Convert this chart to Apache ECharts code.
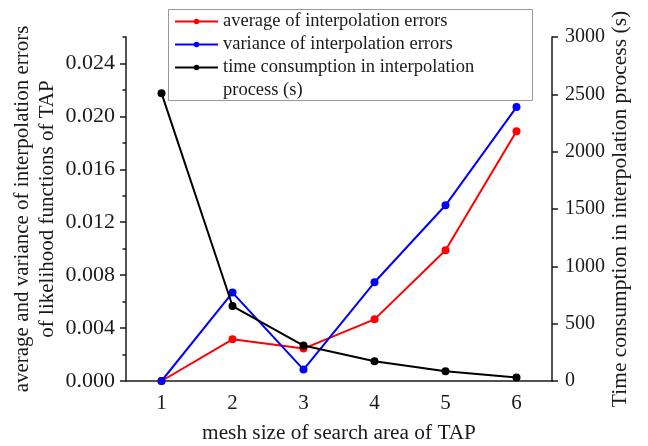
<!DOCTYPE html>
<html>
<head>
<meta charset="utf-8">
<script src="https://cdn.jsdelivr.net/npm/echarts@6/dist/echarts.min.js"></script>
<style>
  html, body { margin: 0; padding: 0; background: #fff; }
  #chart { width: 648px; height: 446px; }
</style>
</head>
<body>
<div id="chart"></div>
<script>
// Mesh sizes of the TAP search area
const meshSizes = ['1', '2', '3', '4', '5', '6'];
// Average and variance of the interpolation errors (left axis)
const avgErrors = [0, 0.00315, 0.00245, 0.00466, 0.00988, 0.01887];
const varErrors = [0, 0.00668, 0.00086, 0.00746, 0.01328, 0.0207];
// Time spent in the interpolation process, seconds (right axis)
const timeCost = [2510, 654, 309, 172, 85, 30];
// Tick values
const leftMajorTicks = [0, 0.004, 0.008, 0.012, 0.016, 0.020, 0.024];
const leftMinorTicks = [0.002, 0.006, 0.010, 0.014, 0.018, 0.022, 0.026];

const SERIF = '"Liberation Serif", "Times New Roman", serif';
const INK = '#1a1a1a';

const chart = echarts.init(document.getElementById('chart'));

chart.setOption({
  animation: false,
  backgroundColor: '#fff',
  grid: { left: 126, right: 96, top: 37, bottom: 65, containLabel: false, outerBoundsMode: 'none' },
  graphic: [{
    type: 'rect',
    shape: { x: 168.5, y: 9.5, width: 364, height: 91 },
    style: { fill: null, stroke: '#999', lineWidth: 1 },
    z: 10
  }],
  legend: {
    orient: 'vertical',
    left: 174,
    top: 10,
    padding: 0,
    itemGap: 0,
    itemWidth: 43,
    itemHeight: 7,
    // a wrapped label keeps its marker level with the first line:
    // the continuation line takes no height of its own
    formatter: name => {
      const [first, rest] = name.split('\n');
      return rest ? `{t|${first}}\n{p|${rest}}` : `{t|${first}}`;
    },
    textStyle: {
      fontFamily: SERIF,
      fontSize: 18.5,
      color: INK,
      lineHeight: 23,
      rich: {
        t: { fontFamily: SERIF, fontSize: 18.5, color: INK, lineHeight: 23 },
        p: { fontFamily: SERIF, fontSize: 18.5, color: INK, lineHeight: 0, verticalAlign: 'top', padding: [2, 0, 0, 0] }
      }
    },
    data: ['average of interpolation errors', 'variance of interpolation errors',
           'time consumption in interpolation\nprocess (s)']
  },
  xAxis: {
    type: 'category',
    data: meshSizes,
    boundaryGap: true,
    name: 'mesh size of search area of TAP',
    nameLocation: 'middle',
    nameGap: 42,
    nameTextStyle: { fontFamily: SERIF, fontSize: 21.3, color: INK },
    axisLine: { lineStyle: { color: INK, width: 1.5 } },
    axisTick: { alignWithLabel: true, length: 5, lineStyle: { color: INK, width: 1.5 } },
    axisLabel: { fontFamily: SERIF, fontSize: 21, color: INK, margin: 12 },
    splitLine: { show: false }
  },
  yAxis: [{
    type: 'value',
    position: 'left',
    min: 0,
    max: 0.026,
    interval: 0.002,
    name: 'average and variance of interpolation errors\nof likelihood functions of TAP',
    nameLocation: 'middle',
    nameRotate: 90,
    nameGap: 66,
    nameMoveOverlap: false,
    nameTextStyle: { fontFamily: SERIF, fontSize: 21, color: INK, lineHeight: 25 },
    axisLine: { show: true, lineStyle: { color: INK, width: 1.5 } },
    axisTick: { show: true, length: 6, customValues: leftMajorTicks, lineStyle: { color: INK, width: 1.5 } },
    axisLabel: {
      fontFamily: SERIF, fontSize: 22, color: INK, margin: 11,
      customValues: leftMajorTicks,
      formatter: v => v.toFixed(3)
    },
    splitLine: { show: false }
  }, {
    type: 'value',
    position: 'right',
    min: 0,
    max: 3000,
    interval: 500,
    name: 'Time consumption in interpolation process (s)',
    nameLocation: 'middle',
    nameRotate: 90,
    nameGap: 57,
    nameMoveOverlap: false,
    nameTextStyle: { fontFamily: SERIF, fontSize: 21.5, color: INK },
    axisLine: { show: true, lineStyle: { color: INK, width: 1.5 } },
    axisTick: { show: true, length: 6, lineStyle: { color: INK, width: 1.5 } },
    axisLabel: { fontFamily: SERIF, fontSize: 20, color: INK, margin: 13, formatter: v => String(v) },
    splitLine: { show: false }
  }, {
    // short ticks between the labelled ones on the left axis
    type: 'value',
    position: 'left',
    min: 0,
    max: 0.026,
    interval: 0.002,
    axisLine: { show: false },
    axisTick: { show: true, length: 3.5, customValues: leftMinorTicks, lineStyle: { color: INK, width: 1.5 } },
    axisLabel: { show: false },
    splitLine: { show: false }
  }],
  series: [{
    name: 'average of interpolation errors',
    type: 'line',
    yAxisIndex: 0,
    data: avgErrors,
    color: '#ff0000',
    symbol: 'circle',
    symbolSize: 8,
    lineStyle: { width: 2 },
    z: 2
  }, {
    name: 'variance of interpolation errors',
    type: 'line',
    yAxisIndex: 0,
    data: varErrors,
    color: '#0000ff',
    symbol: 'circle',
    symbolSize: 8,
    lineStyle: { width: 2 },
    z: 3
  }, {
    name: 'time consumption in interpolation\nprocess (s)',
    type: 'line',
    yAxisIndex: 1,
    data: timeCost,
    color: '#000000',
    symbol: 'circle',
    symbolSize: 8,
    lineStyle: { width: 2 },
    z: 4
  }]
});
</script>
</body>
</html>
